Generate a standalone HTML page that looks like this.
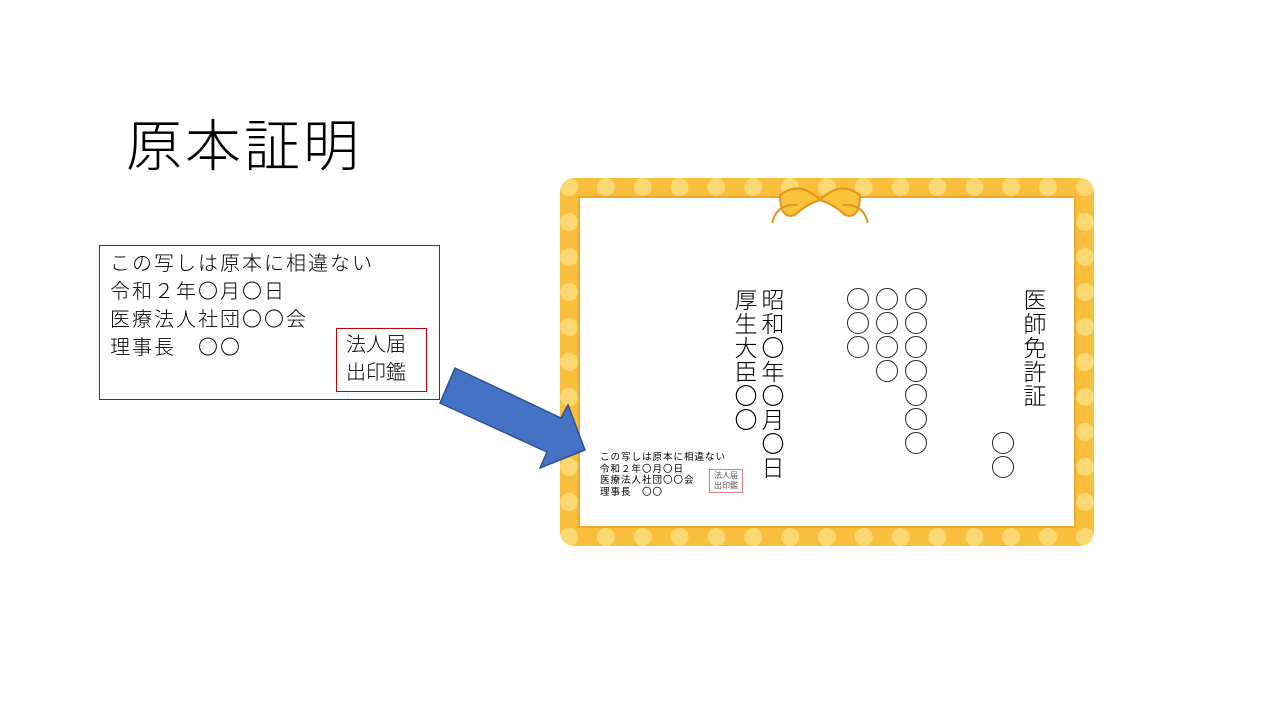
<!DOCTYPE html>
<html><head><meta charset="utf-8"><style>
body{margin:0;width:1280px;height:720px;background:#fff;position:relative;overflow:hidden;font-family:"Liberation Sans","Noto Sans CJK JP",sans-serif;color:#000}
.a{position:absolute;white-space:nowrap}
.frame{position:absolute;left:560px;top:178px;width:534px;height:368px;box-sizing:border-box;border:18px solid #f9be3c;border-radius:14px;
background:#fff;box-shadow:inset 0 0 0 2px #f0a82a}
.frame:before{content:"";position:absolute;inset:-18px;border:18px dotted #fde38a;border-radius:14px;opacity:.7}
.v{position:absolute;writing-mode:vertical-rl;font-size:23px;line-height:25px;letter-spacing:1px;font-weight:300}
.c{position:absolute;width:20px;height:20px;border:1.8px solid #222;border-radius:50%}
</style></head><body>
<div class="a" style="left:126px;top:102px;font-size:56px;font-weight:300;letter-spacing:3px">原本証明</div>
<div class="a" style="left:99px;top:245px;width:341px;height:155px;border:1px solid #c00000;box-sizing:border-box"></div>
<div class="a" style="left:110px;top:250px;font-size:20px;line-height:28px;letter-spacing:2px;font-weight:300">この写しは原本に相違ない<br>令和２年〇月〇日<br>医療法人社団〇〇会<br>理事長　〇〇</div>
<div class="a" style="left:336px;top:328px;width:91px;height:64px;border:1px solid #c00000;box-sizing:border-box;font-size:20px;line-height:28px;padding:2px 0 0 9px;font-weight:300">法人届<br>出印鑑</div>
<div class="frame"></div>
<svg class="a" style="left:760px;top:175px" width="120" height="60"><g fill="#f9c23a" stroke="#e0961a" stroke-width="2"><path d="M20 20 q20-15 40 5 q-15 5-25 15 q-15 5-15-20z"/><path d="M100 20 q-20-15-40 5 q15 5 25 15 q15 5 15-20z"/><path d="M12 48 q5-20 25-18" fill="none"/><path d="M108 48 q-5-20-25-18" fill="none"/></g></svg>
<div class="a" style="left:600px;top:452px;font-size:9.5px;line-height:11.5px;letter-spacing:1px">この写しは原本に相違ない<br>令和２年〇月〇日<br>医療法人社団〇〇会<br>理事長　〇〇</div>
<div class="a" style="left:709px;top:469px;width:34px;height:24px;border:1px solid #e08080;box-sizing:border-box;font-size:8px;line-height:10px;padding:1px 0 0 4px;color:#555">法人届<br>出印鑑</div>
<div class="v" style="left:1020px;top:288px">医師免許証</div>
<div class="v" style="left:758px;top:288px">昭和〇年〇月〇日</div>
<div class="v" style="left:731px;top:288px">厚生大臣〇〇</div>
<div id="circ"></div>
<svg class="a" style="left:0;top:0" width="1280" height="720"><polygon points="455,368 561,418 568,405 585,450 540,468 547,452 440,403" fill="#4472c4" stroke="#2f528f" stroke-width="1.5"/></svg>
<script>
var h='',cols=[[916,7],[887,4],[858,3]];
cols.forEach(function(c){for(var i=0;i<c[1];i++)h+='<div class="c" style="left:'+(c[0]-11)+'px;top:'+(288+i*24)+'px"></div>';});
[443,467].forEach(function(y){h+='<div class="c" style="left:992px;top:'+(y-11)+'px"></div>';});
document.getElementById('circ').outerHTML=h;
</script>
</body></html>
